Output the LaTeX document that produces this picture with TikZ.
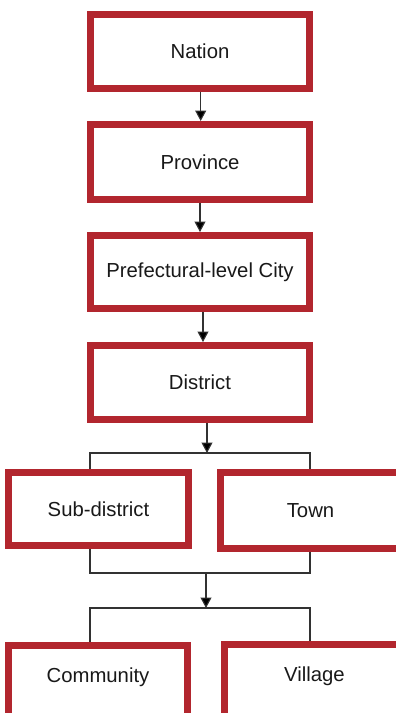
\documentclass[tikz,border=0pt]{standalone}
\usepackage{fontspec}
\setmainfont{Liberation Sans}
\usetikzlibrary{arrows.meta}
\definecolor{boxred}{RGB}{178,38,46}
\definecolor{ink}{RGB}{25,25,25}
\definecolor{wire}{RGB}{50,50,50}
\tikzset{
  level/.style={draw=boxred, line width=7pt, fill=white, inner sep=0pt,
    text=ink, font=\fontsize{20.3}{24}\selectfont, align=center},
  link/.style={draw=wire, line width=1.1pt},
  arr/.style={link, -{Triangle[width=11pt,length=10.5pt,fill=black]}},
}
\begin{document}
\begin{tikzpicture}[x=1pt,y=-1pt]
  \useasboundingbox (0,0) rectangle (396,713);
  \fill[white] (0,0) rectangle (396,713);
  \clip (0,0) rectangle (396,713);

  % single chain of administrative levels
  \node[level, minimum width=219pt, minimum height=74pt] (nation)   at (200,51.5)  {Nation};
  \node[level, minimum width=219pt, minimum height=75pt] (province) at (200,162)   {Province};
  \node[level, minimum width=219pt, minimum height=73pt] (city)     at (200,272)   {Prefectural-level City};
  \node[level, minimum width=219pt, minimum height=74pt] (district) at (200,382.5) {District};

  % parallel levels below the district
  \node[level, minimum width=180pt, minimum height=73pt] (subdist) at (98.5,509)  {Sub-district};
  \node[level, minimum width=180pt, minimum height=76pt] (town)    at (310.5,510.5) {Town};

  \node[level, anchor=north, text width=179pt, text height=37pt, text depth=38pt]
       (community) at (98,641.5) {Community};
  \node[level, anchor=north, text width=180pt, text height=37pt, text depth=38pt]
       (village) at (314.5,640.5) {Village};

  % junction points of the split and join bars
  \coordinate (splitA) at (207,453);
  \coordinate (barAl) at (90,453);
  \coordinate (barAr) at (310,453);
  \coordinate (joinB) at (206,573);
  \coordinate (barBl) at (90,573);
  \coordinate (barBr) at (310,573);
  \coordinate (splitC) at (206,608);
  \coordinate (barCl) at (90,608);
  \coordinate (barCr) at (310,608);

  % arrows along the chain
  \draw[arr] ([xshift=0.7pt]nation.south) -- ([xshift=0.7pt]province.north);
  \draw[arr] (province.south) -- (city.north);
  \draw[arr] ([xshift=3pt]city.south) -- ([xshift=3pt]district.north);
  \draw[arr] (district.south -| splitA) -- (splitA);

  % split into sub-district and town
  \draw[link] (subdist.north -| barAl) -- (barAl) -- (barAr) -- (town.north -| barAr);

  % join, then split into community and village
  \draw[link] (subdist.south -| barBl) -- (barBl) -- (barBr) -- (town.south -| barBr);
  \draw[arr] (joinB) -- (splitC);
  \draw[link] (community.north -| barCl) -- (barCl) -- (barCr) -- (village.north -| barCr);
\end{tikzpicture}
\end{document}
